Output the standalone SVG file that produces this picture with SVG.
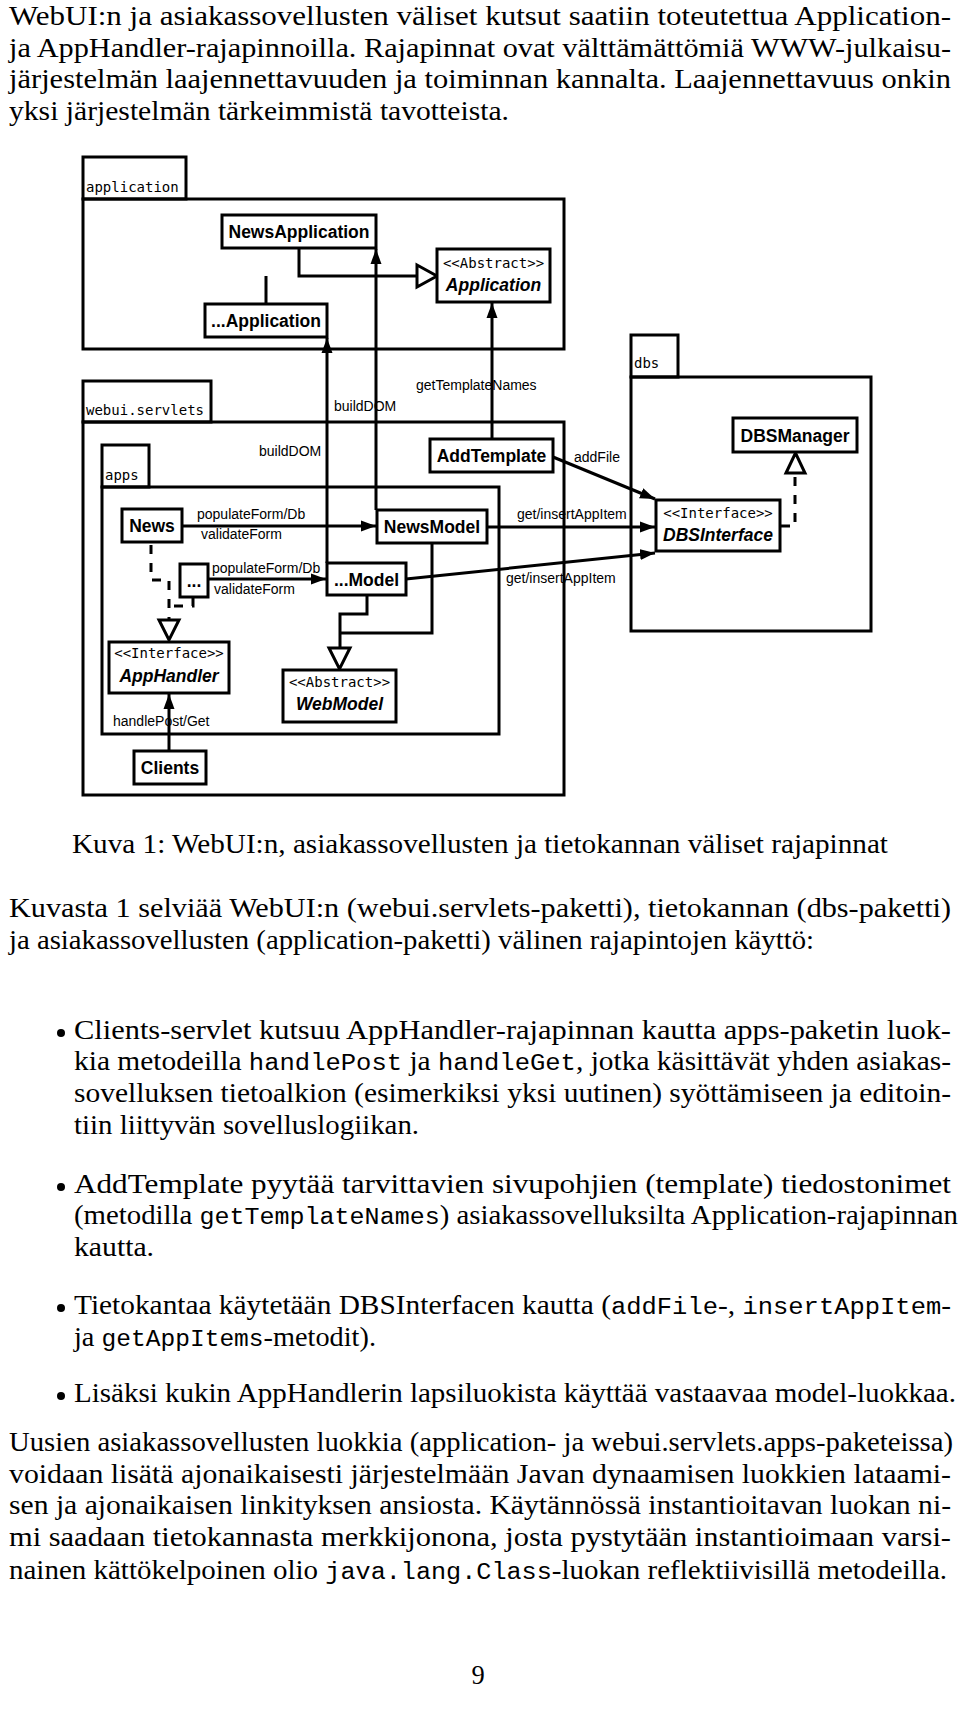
<svg xmlns="http://www.w3.org/2000/svg" width="960" height="1714" viewBox="0 0 960 1714">
<style>
.body{font-family:"Liberation Serif","Times New Roman",serif;font-size:26.5px;fill:#000}
.tt{font-family:"Liberation Mono","Courier New",monospace;font-size:23px}
.pkg{fill:none;stroke:#000;stroke-width:3}
.box{fill:#fff;stroke:#000;stroke-width:3}
.ln{fill:none;stroke:#000;stroke-width:3}
.dash{stroke-dasharray:9 9}
.tri{fill:#fff;stroke:#000;stroke-width:3}
.name{font-family:"Liberation Sans",Arial,sans-serif;font-weight:bold;font-size:17.5px;text-anchor:middle;fill:#000}
.it{font-style:italic}
.st{font-family:"DejaVu Sans Mono",monospace;font-size:14px;text-anchor:middle;fill:#000}
.pl{font-family:"DejaVu Sans Mono",monospace;font-size:14px;fill:#000}
.lbl{font-family:"Liberation Sans",Arial,sans-serif;font-size:14px;fill:#000}
</style>
<defs>
<marker id="arr" markerUnits="userSpaceOnUse" markerWidth="16" markerHeight="12" refX="15" refY="6" orient="auto">
<path d="M0,0.5 L15,6 L0,11.5 z" fill="#000"/>
</marker>
</defs>
<rect width="960" height="1714" fill="#fff"/>

<g id="text-top" class="body">
<text x="9" y="25" textLength="942" lengthAdjust="spacingAndGlyphs">WebUI:n ja asiakassovellusten väliset kutsut saatiin toteutettua Application-</text>
<text x="9" y="57" textLength="942" lengthAdjust="spacingAndGlyphs">ja AppHandler-rajapinnoilla. Rajapinnat ovat välttämättömiä WWW-julkaisu-</text>
<text x="9" y="88" textLength="942" lengthAdjust="spacingAndGlyphs">järjestelmän laajennettavuuden ja toiminnan kannalta. Laajennettavuus onkin</text>
<text x="9" y="120" textLength="500" lengthAdjust="spacingAndGlyphs">yksi järjestelmän tärkeimmistä tavotteista.</text>
</g>

<g id="pkg-application">
<rect class="pkg" x="83" y="157" width="103" height="42"/>
<rect class="pkg" x="83" y="199" width="481" height="150"/>
<text class="pl" x="86" y="192">application</text>
</g>
<g id="pkg-webui">
<rect class="pkg" x="83" y="381" width="128" height="41"/>
<rect class="pkg" x="83" y="422" width="481" height="373"/>
<text class="pl" x="86" y="415">webui.servlets</text>
</g>
<g id="pkg-apps">
<rect class="pkg" x="102" y="445" width="47" height="42"/>
<rect class="pkg" x="102" y="487" width="397" height="247"/>
<text class="pl" x="105" y="480">apps</text>
</g>
<g id="pkg-dbs">
<rect class="pkg" x="631" y="335" width="47" height="42"/>
<rect class="pkg" x="631" y="377" width="240" height="254"/>
<text class="pl" x="634" y="368">dbs</text>
</g>

<g id="connectors">
<path class="ln" d="M327,563 V338" marker-end="url(#arr)"/>
<path class="ln" d="M376,510 V249" marker-end="url(#arr)"/>
<path class="ln" d="M492,439 V303" marker-end="url(#arr)"/>
<path class="ln" d="M553,457 L655,499" marker-end="url(#arr)"/>
<path class="ln" d="M487,527 H655" marker-end="url(#arr)"/>
<path class="ln" d="M406,579 L655,553" marker-end="url(#arr)"/>
<path class="ln" d="M182,526 H376" marker-end="url(#arr)"/>
<path class="ln" d="M208,579 H326" marker-end="url(#arr)"/>
<path class="ln" d="M169,751 V694" marker-end="url(#arr)"/>
<path class="ln" d="M299,248 V276 H417 M266,304 V276"/>
<polygon class="tri" points="417,265 437,276 417,287"/>
<path class="ln" d="M432,543 V633 H340 M367,595 V614 H340 V648"/>
<polygon class="tri" points="329,648 339.5,669 350,648"/>
<path class="ln dash" d="M151,545 V580 H169 V620 M193,598 V606 H169"/>
<polygon class="tri" points="159,620 169,640 179,620"/>
<path class="ln dash" d="M781,526 H795 V473"/>
<polygon class="tri" points="786,473 795.5,453 805,473"/>
</g>

<g id="labels" class="lbl">
<text x="259" y="456">buildDOM</text>
<text x="334" y="411">buildDOM</text>
<text x="416" y="390">getTemplateNames</text>
<text x="574" y="462">addFile</text>
<text x="517" y="519">get/insertAppItem</text>
<text x="506" y="583">get/insertAppItem</text>
<text x="197" y="519">populateForm/Db</text>
<text x="201" y="539">validateForm</text>
<text x="212" y="573">populateForm/Db</text>
<text x="214" y="594">validateForm</text>
<text x="113" y="726">handlePost/Get</text>
</g>

<g id="NewsApplication"><rect class="box" x="222" y="215" width="154" height="33"/><text class="name" x="299" y="238">NewsApplication</text></g>
<g id="DotApplication"><rect class="box" x="205" y="304" width="122" height="33"/><text class="name" x="266" y="327">...Application</text></g>
<g id="Application"><rect class="box" x="437" y="249" width="113" height="53"/><text class="st" x="493.5" y="268">&lt;&lt;Abstract&gt;&gt;</text><text class="name it" x="493.5" y="291">Application</text></g>
<g id="AddTemplate"><rect class="box" x="430" y="439" width="123" height="33"/><text class="name" x="491.5" y="462">AddTemplate</text></g>
<g id="DBSManager"><rect class="box" x="733" y="418" width="124" height="34"/><text class="name" x="795" y="441.5">DBSManager</text></g>
<g id="DBSInterface"><rect class="box" x="656" y="500" width="124" height="51"/><text class="st" x="718" y="518">&lt;&lt;Interface&gt;&gt;</text><text class="name it" x="718" y="541">DBSInterface</text></g>
<g id="NewsModel"><rect class="box" x="377" y="510" width="110" height="33"/><text class="name" x="432" y="533">NewsModel</text></g>
<g id="DotModel"><rect class="box" x="327" y="563" width="79" height="32"/><text class="name" x="366.5" y="585.5">...Model</text></g>
<g id="News"><rect class="box" x="122" y="509" width="60" height="33"/><text class="name" x="152" y="532">News</text></g>
<g id="DotHandler"><rect class="box" x="180" y="564" width="28" height="33"/><text class="name" x="194" y="587">...</text></g>
<g id="AppHandler"><rect class="box" x="109" y="642" width="120" height="51"/><text class="st" x="169" y="658">&lt;&lt;Interface&gt;&gt;</text><text class="name it" x="169" y="682">AppHandler</text></g>
<g id="WebModel"><rect class="box" x="283" y="670" width="113" height="52"/><text class="st" x="339.5" y="687">&lt;&lt;Abstract&gt;&gt;</text><text class="name it" x="339.5" y="710">WebModel</text></g>
<g id="Clients"><rect class="box" x="134" y="751" width="72" height="33"/><text class="name" x="170" y="774">Clients</text></g>

<g id="text-bottom" class="body">
<text x="480" y="853" text-anchor="middle" textLength="816" lengthAdjust="spacingAndGlyphs">Kuva 1: WebUI:n, asiakassovellusten ja tietokannan väliset rajapinnat</text>
<text x="9" y="917" textLength="942" lengthAdjust="spacingAndGlyphs">Kuvasta 1 selviää WebUI:n (webui.servlets-paketti), tietokannan (dbs-paketti)</text>
<text x="9" y="949" textLength="805" lengthAdjust="spacingAndGlyphs">ja asiakassovellusten (application-paketti) välinen rajapintojen käyttö:</text>
<circle cx="61" cy="1033" r="4"/>
<text x="74" y="1039" textLength="877" lengthAdjust="spacingAndGlyphs">Clients-servlet kutsuu AppHandler-rajapinnan kautta apps-paketin luok-</text>
<text x="74" y="1070" textLength="877" lengthAdjust="spacingAndGlyphs">kia metodeilla <tspan class="tt">handlePost</tspan> ja <tspan class="tt">handleGet</tspan>, jotka käsittävät yhden asiakas-</text>
<text x="74" y="1102" textLength="877" lengthAdjust="spacingAndGlyphs">sovelluksen tietoalkion (esimerkiksi yksi uutinen) syöttämiseen ja editoin-</text>
<text x="74" y="1134" textLength="345" lengthAdjust="spacingAndGlyphs">tiin liittyvän sovelluslogiikan.</text>
<circle cx="61" cy="1187" r="4"/>
<text x="74" y="1193" textLength="877" lengthAdjust="spacingAndGlyphs">AddTemplate pyytää tarvittavien sivupohjien (template) tiedostonimet</text>
<text x="74" y="1224" textLength="884" lengthAdjust="spacingAndGlyphs">(metodilla <tspan class="tt">getTemplateNames</tspan>) asiakassovelluksilta Application-rajapinnan</text>
<text x="74" y="1256" textLength="80" lengthAdjust="spacingAndGlyphs">kautta.</text>
<circle cx="61" cy="1308" r="4"/>
<text x="74" y="1314" textLength="877" lengthAdjust="spacingAndGlyphs">Tietokantaa käytetään DBSInterfacen kautta (<tspan class="tt">addFile</tspan>-, <tspan class="tt">insertAppItem</tspan>-</text>
<text x="74" y="1346" textLength="302" lengthAdjust="spacingAndGlyphs">ja <tspan class="tt">getAppItems</tspan>-metodit).</text>
<circle cx="61" cy="1396" r="4"/>
<text x="74" y="1402" textLength="882" lengthAdjust="spacingAndGlyphs">Lisäksi kukin AppHandlerin lapsiluokista käyttää vastaavaa model-luokkaa.</text>
<text x="9" y="1451" textLength="944" lengthAdjust="spacingAndGlyphs">Uusien asiakassovellusten luokkia (application- ja webui.servlets.apps-paketeissa)</text>
<text x="9" y="1483" textLength="942" lengthAdjust="spacingAndGlyphs">voidaan lisätä ajonaikaisesti järjestelmään Javan dynaamisen luokkien lataami-</text>
<text x="9" y="1514" textLength="942" lengthAdjust="spacingAndGlyphs">sen ja ajonaikaisen linkityksen ansiosta. Käytännössä instantioitavan luokan ni-</text>
<text x="9" y="1546" textLength="942" lengthAdjust="spacingAndGlyphs">mi saadaan tietokannasta merkkijonona, josta pystytään instantioimaan varsi-</text>
<text x="9" y="1579" textLength="938" lengthAdjust="spacingAndGlyphs">nainen kättökelpoinen olio <tspan class="tt">java.lang.Class</tspan>-luokan reflektiivisillä metodeilla.</text>
<text x="478" y="1684" text-anchor="middle">9</text>
</g>
</svg>
